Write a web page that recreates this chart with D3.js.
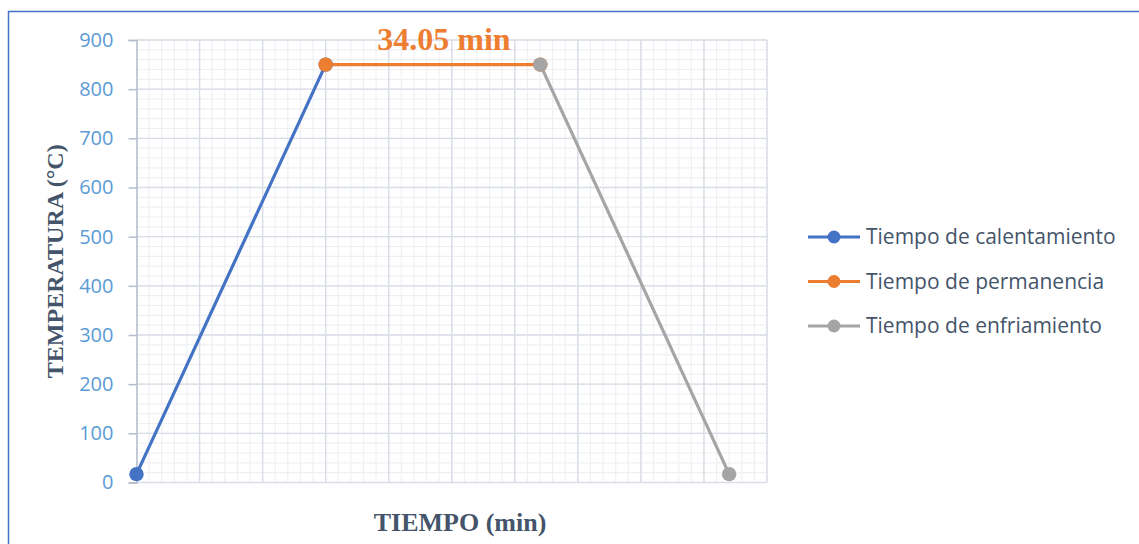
<!DOCTYPE html>
<html>
<head>
<meta charset="utf-8">
<script src="https://cdn.jsdelivr.net/npm/d3@7"></script>
<style>
  body { margin: 0; background: #fff; }
  svg { display: block; }
</style>
</head>
<body>
<script>
// series: [tiempo (min), temperatura (°C)]
var calentamiento = [[0, 17], [30, 850]];
var permanencia = [[30, 850], [64.05, 850]];
var enfriamiento = [[64.05, 850], [94, 17]];
var seriesNames = ['Tiempo de calentamiento', 'Tiempo de permanencia', 'Tiempo de enfriamiento'];
var seriesColors = ['#4472C4', '#ED7D31', '#A5A5A5'];
var yTicks = [0, 100, 200, 300, 400, 500, 600, 700, 800, 900];
var annotation = '34.05 min';

var width = 1139, height = 544;
var plot = { left: 136.5, right: 767, top: 40, bottom: 482.5 };
var sans = '"Open Sans", "Noto Sans", sans-serif';
var serif = '"Liberation Serif", "Times New Roman", serif';

var svg = d3.select('body').append('svg')
  .attr('width', width)
  .attr('height', height);

// outer border
svg.append('rect')
  .attr('x', 8.5).attr('y', 11.5)
  .attr('width', 1140).attr('height', 540)
  .attr('fill', 'none')
  .attr('stroke', '#4472C4')
  .attr('stroke-width', 1.5);

var x = d3.scaleLinear().domain([0, 100]).range([plot.left, plot.right]);
var y = d3.scaleLinear().domain([0, 900]).range([plot.bottom, plot.top]);

// minor grid
var grid = svg.append('g');
grid.selectAll('.vminor').data(d3.range(0, 101, 2)).enter().append('line')
  .attr('x1', function (d) { return x(d); }).attr('x2', function (d) { return x(d); })
  .attr('y1', plot.top).attr('y2', plot.bottom)
  .attr('stroke', '#EEF0F4').attr('stroke-width', 1.2);
grid.selectAll('.hminor').data(d3.range(0, 901, 20)).enter().append('line')
  .attr('y1', function (d) { return y(d); }).attr('y2', function (d) { return y(d); })
  .attr('x1', plot.left).attr('x2', plot.right)
  .attr('stroke', '#EEF0F4').attr('stroke-width', 1.2);

// major grid
grid.selectAll('.vmajor').data(d3.range(10, 101, 10)).enter().append('line')
  .attr('x1', function (d) { return x(d); }).attr('x2', function (d) { return x(d); })
  .attr('y1', plot.top).attr('y2', plot.bottom)
  .attr('stroke', '#D9DDE6').attr('stroke-width', 1.4);
grid.selectAll('.hmajor').data(yTicks).enter().append('line')
  .attr('y1', function (d) { return y(d); }).attr('y2', function (d) { return y(d); })
  .attr('x1', plot.left).attr('x2', plot.right)
  .attr('stroke', '#D9DDE6').attr('stroke-width', 1.4);

// y axis
var yAxis = d3.axisLeft(y).tickValues(yTicks).tickSize(8).tickPadding(15);
var yAxisEl = svg.append('g')
  .attr('transform', 'translate(' + plot.left + ',0)')
  .call(yAxis);
yAxisEl.select('.domain').attr('stroke', '#B4BCCB').attr('stroke-width', 1.5);
yAxisEl.selectAll('line').attr('stroke', '#B4BCCB').attr('stroke-width', 1.5);
yAxisEl.selectAll('text')
  .attr('fill', '#5B9BD5')
  .style('font-family', sans)
  .style('font-size', '20px');

// axis titles
svg.append('text')
  .attr('transform', 'translate(63,' + ((plot.top + plot.bottom) / 2) + ') rotate(-90)')
  .attr('text-anchor', 'middle')
  .attr('fill', '#44546A')
  .style('font-family', serif)
  .style('font-weight', 'bold')
  .style('font-size', '24px')
  .text('TEMPERATURA (°C)');

svg.append('text')
  .attr('x', 460).attr('y', 531)
  .attr('text-anchor', 'middle')
  .attr('fill', '#44546A')
  .style('font-family', serif)
  .style('font-weight', 'bold')
  .style('font-size', '26px')
  .text('TIEMPO (min)');

// series lines + markers
var line = d3.line().x(function (d) { return x(d[0]); }).y(function (d) { return y(d[1]); });
var allSeries = [calentamiento, permanencia, enfriamiento];
allSeries.forEach(function (s, i) {
  svg.append('path')
    .datum(s)
    .attr('d', line)
    .attr('fill', 'none')
    .attr('stroke', seriesColors[i])
    .attr('stroke-width', 3.2);
});
allSeries.forEach(function (s, i) {
  svg.selectAll('.m' + i).data(s).enter().append('circle')
    .attr('cx', function (d) { return x(d[0]); })
    .attr('cy', function (d) { return y(d[1]); })
    .attr('r', 7.2)
    .attr('fill', seriesColors[i]);
});

// annotation
svg.append('text')
  .attr('x', (x(permanencia[0][0]) + x(permanencia[1][0])) / 2 + 11)
  .attr('y', 50)
  .attr('text-anchor', 'middle')
  .attr('fill', '#ED7D31')
  .style('font-family', serif)
  .style('font-weight', 'bold')
  .style('font-size', '32px')
  .text(annotation);

// legend
var legend = svg.append('g').attr('transform', 'translate(808,237)');
seriesNames.forEach(function (name, i) {
  var g = legend.append('g').attr('transform', 'translate(0,' + (i * 44.5) + ')');
  g.append('line')
    .attr('x1', 0).attr('x2', 52).attr('y1', 0).attr('y2', 0)
    .attr('stroke', seriesColors[i]).attr('stroke-width', 3.2);
  g.append('circle').attr('cx', 26).attr('cy', 0).attr('r', 6.5).attr('fill', seriesColors[i]);
  g.append('text')
    .attr('x', 58).attr('y', 0).attr('dy', '0.35em')
    .attr('fill', '#44546A')
    .style('font-family', sans)
    .style('font-size', '21px')
    .text(name);
});
</script>
</body>
</html>
